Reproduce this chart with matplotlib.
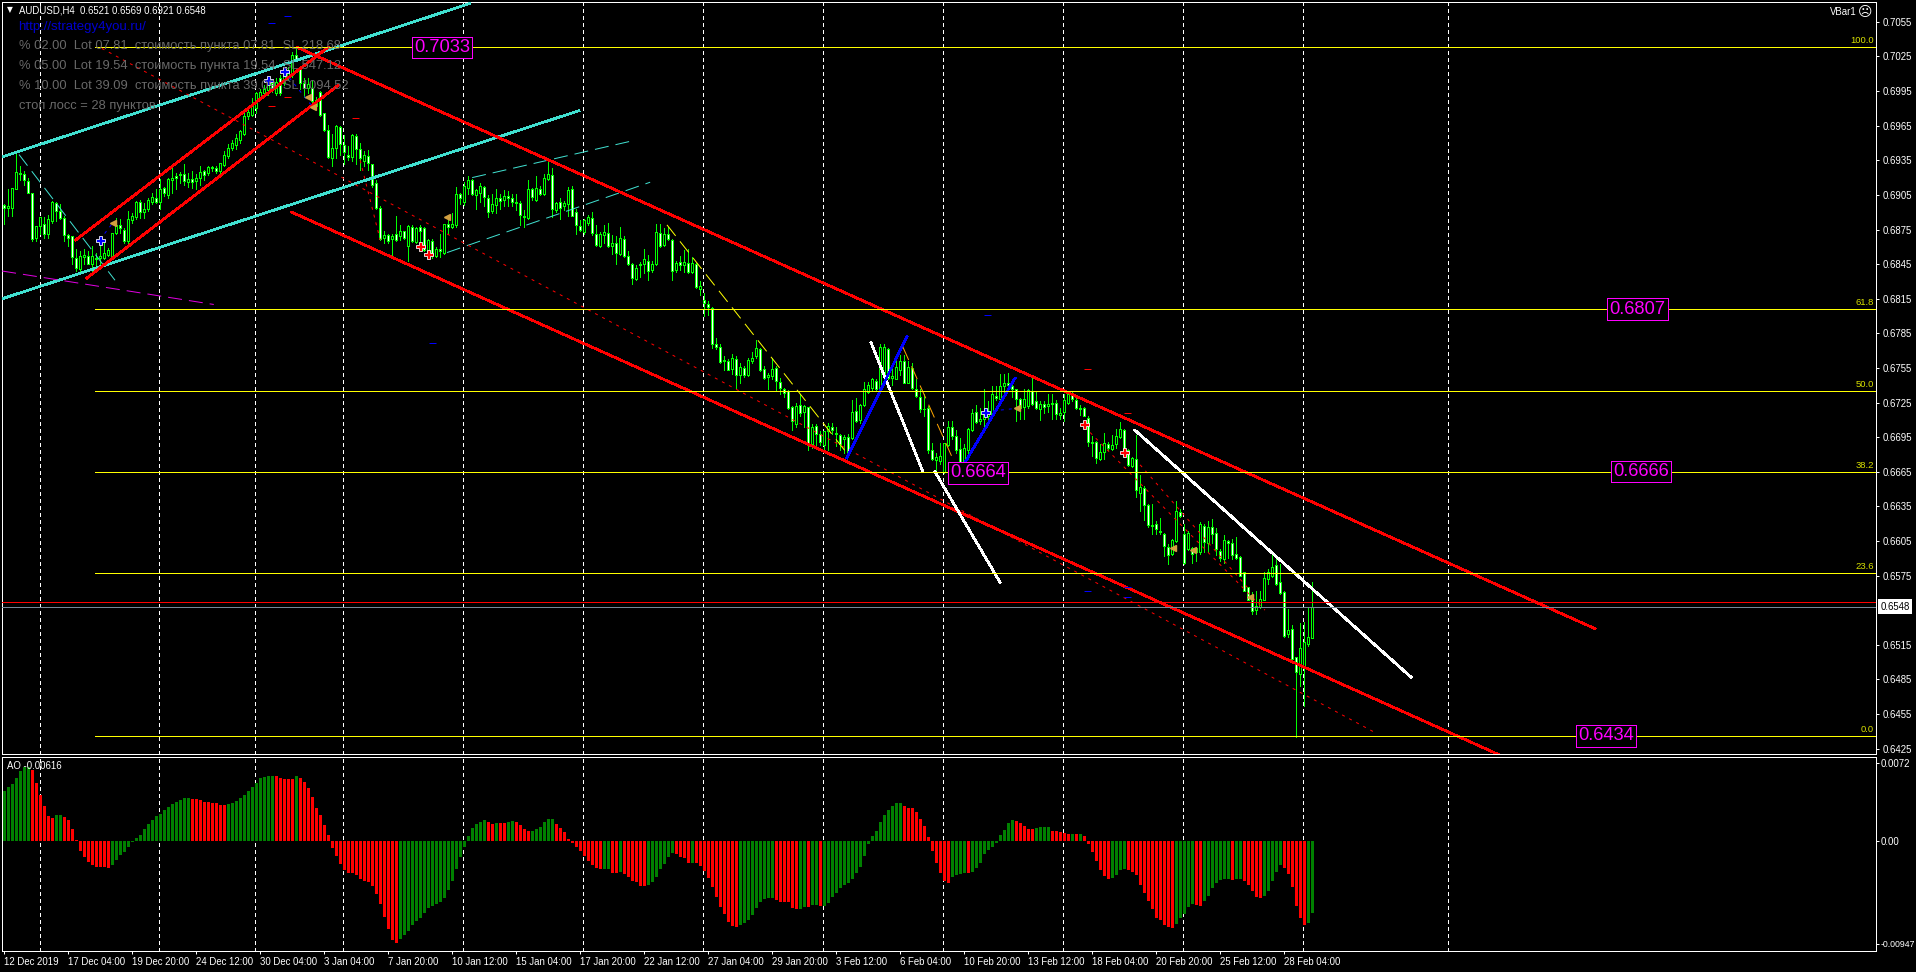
import matplotlib
matplotlib.use("Agg")
import matplotlib.pyplot as plt
import numpy as np

# AUDUSD H4 quotes in pips (1e-4)
opens = [6896,6894,6894,6910,6924,6923,6917,6907,6868,6878,
6880,6871,6882,6898,6891,6885,6870,6869,6850,6841,
6851,6852,6845,6850,6850,6850,6853,6852,6872,6879,
6875,6865,6883,6886,6899,6890,6893,6899,6902,6899,
6911,6905,6918,6921,6922,6923,6916,6919,6917,6920,
6926,6924,6929,6928,6926,6931,6939,6946,6948,6953,
6958,6973,6974,6980,6990,6993,6996,7002,6993,7006,
7002,7007,7009,7026,7015,7002,6998,6998,6987,6994,
6976,6961,6937,6946,6964,6948,6940,6938,6956,6945,
6934,6939,6932,6915,6894,6868,6870,6867,6871,6869,
6874,6861,6877,6864,6877,6876,6853,6865,6852,6858,
6855,6880,6877,6879,6906,6899,6911,6918,6905,6907,
6912,6902,6891,6896,6902,6901,6904,6902,6899,6898,
6887,6885,6910,6901,6910,6906,6919,6922,6892,6899,
6895,6897,6910,6890,6878,6873,6881,6885,6871,6861,
6870,6872,6861,6863,6854,6867,6852,6845,6832,6844,
6845,6848,6840,6845,6872,6862,6871,6866,6840,6847,
6844,6846,6838,6845,6823,6814,6810,6807,6776,6773,
6761,6761,6754,6763,6749,6755,6749,6761,6765,6771,
6754,6747,6748,6755,6743,6737,6735,6721,6706,6723,
6717,6721,6689,6705,6698,6688,6700,6704,6699,6697,
6693,6695,6694,6718,6710,6723,6734,6738,6744,6736,
6749,6771,6746,6745,6753,6761,6742,6755,6737,6730,
6719,6720,6684,6675,6674,6665,6688,6704,6696,6685,
6672,6684,6701,6717,6709,6711,6713,6713,6731,6728,
6739,6742,6739,6737,6728,6721,6722,6735,6726,6719,
6724,6722,6725,6725,6714,6717,6725,6733,6727,6720,
6720,6712,6691,6691,6676,6682,6689,6685,6689,6695,
6701,6684,6670,6676,6647,6651,6636,6619,6620,6614,
6611,6600,6594,6605,6630,6611,6598,6599,6595,6595,
6618,6603,6617,6612,6596,6589,6605,6603,6594,6591,
6578,6565,6554,6545,6548,6554,6572,6575,6584,6569,
6561,6524,6529,6504,6490,6495,6516,6521]

highs = [6897,6910,6911,6941,6930,6926,6920,6907,6878,6886,
6886,6888,6900,6899,6897,6887,6871,6869,6858,6856,
6858,6856,6861,6855,6866,6866,6859,6872,6885,6884,
6876,6891,6889,6900,6901,6898,6902,6907,6910,6919,
6912,6920,6931,6924,6925,6932,6924,6926,6923,6930,
6927,6930,6930,6930,6933,6943,6949,6953,6958,6961,
6977,6982,6989,6994,6997,7000,7007,7003,7006,7009,
7013,7016,7029,7034,7016,7006,7006,7005,6990,6995,
6976,6966,6958,6966,6965,6957,6947,6958,6958,6950,
6943,6944,6932,6918,6895,6874,6871,6871,6887,6879,
6874,6879,6879,6877,6879,6877,6867,6867,6860,6871,
6880,6884,6889,6912,6907,6916,6921,6919,6910,6915,
6913,6905,6906,6910,6906,6909,6908,6906,6906,6900,
6892,6918,6911,6921,6913,6923,6935,6928,6899,6902,
6900,6912,6913,6893,6883,6884,6888,6890,6879,6873,
6879,6881,6870,6869,6877,6869,6856,6846,6844,6847,
6858,6853,6848,6880,6880,6876,6877,6867,6848,6852,
6857,6858,6851,6846,6830,6820,6813,6808,6781,6776,
6765,6763,6767,6765,6759,6757,6764,6769,6779,6772,
6757,6751,6764,6757,6746,6738,6736,6722,6725,6732,
6723,6721,6706,6706,6700,6700,6707,6707,6704,6698,
6697,6698,6727,6729,6724,6743,6743,6746,6745,6776,
6776,6772,6755,6763,6766,6766,6761,6759,6745,6737,
6732,6722,6690,6681,6690,6690,6709,6709,6701,6694,
6689,6703,6719,6723,6720,6737,6726,6739,6739,6750,
6750,6751,6743,6737,6729,6737,6737,6747,6734,6726,
6726,6732,6732,6727,6720,6732,6735,6735,6729,6723,
6721,6713,6696,6692,6689,6699,6691,6697,6702,6708,
6702,6685,6678,6697,6662,6653,6637,6637,6622,6625,
6612,6602,6607,6640,6633,6620,6614,6600,6600,6621,
6620,6622,6624,6616,6598,6610,6606,6607,6608,6592,
6578,6565,6561,6562,6562,6578,6581,6593,6590,6585,
6562,6546,6532,6504,6534,6535,6548,6569]

lows = [6880,6887,6887,6910,6918,6914,6907,6865,6865,6871,
6868,6868,6881,6882,6884,6865,6861,6845,6839,6839,
6845,6845,6839,6842,6845,6849,6852,6849,6871,6872,
6863,6861,6881,6884,6885,6885,6891,6897,6898,6893,
6904,6902,6907,6910,6915,6914,6912,6911,6910,6914,
6918,6922,6926,6924,6921,6930,6937,6944,6945,6950,
6957,6971,6973,6976,6987,6992,6992,6994,6992,6992,
7000,7005,7007,7022,6997,6990,6993,6982,6980,6973,
6960,6937,6930,6937,6940,6932,6935,6934,6932,6927,
6930,6927,6912,6893,6866,6863,6863,6852,6865,6866,
6867,6848,6864,6863,6863,6856,6851,6850,6851,6851,
6854,6871,6876,6877,6897,6896,6906,6905,6893,6899,
6895,6886,6889,6889,6893,6895,6895,6895,6892,6879,
6877,6884,6901,6900,6905,6905,6918,6886,6890,6884,
6892,6887,6887,6871,6874,6871,6879,6870,6861,6860,
6863,6860,6854,6845,6853,6851,6844,6828,6831,6834,
6837,6831,6838,6844,6860,6861,6866,6831,6838,6840,
6838,6837,6837,6824,6818,6800,6801,6772,6771,6759,
6753,6753,6750,6738,6742,6747,6748,6759,6764,6752,
6745,6737,6745,6736,6732,6730,6719,6701,6704,6713,
6704,6684,6686,6688,6688,6684,6684,6698,6687,6684,
6681,6681,6693,6708,6707,6722,6733,6736,6735,6735,
6748,6745,6740,6745,6749,6742,6742,6737,6730,6717,
6713,6681,6675,6665,6672,6664,6687,6693,6681,6664,
6671,6681,6700,6707,6706,6704,6711,6713,6727,6727,
6730,6736,6730,6709,6711,6711,6720,6723,6719,6710,
6716,6717,6711,6711,6711,6709,6724,6726,6719,6714,
6713,6687,6679,6673,6675,6676,6684,6684,6686,6694,
6678,6670,6669,6643,6631,6623,6617,6611,6611,6611,
6592,6585,6593,6604,6626,6585,6597,6586,6588,6594,
6595,6595,6603,6593,6588,6586,6590,6589,6589,6575,
6562,6554,6542,6542,6547,6554,6568,6574,6567,6559,
6522,6522,6502,6435,6479,6462,6514,6521]

closes = [6894,6895,6911,6925,6923,6918,6907,6867,6878,6886,
6871,6884,6899,6891,6885,6870,6868,6851,6842,6852,
6853,6845,6852,6849,6852,6855,6857,6872,6879,6876,
6865,6884,6887,6899,6890,6893,6901,6903,6899,6910,
6907,6919,6920,6920,6923,6917,6919,6916,6920,6925,
6922,6929,6928,6926,6933,6940,6946,6950,6954,6960,
6973,6977,6984,6993,6994,6997,7002,6997,7003,6993,
7008,7012,7026,7023,7002,6998,7001,6986,6982,6974,
6961,6938,6946,6965,6949,6942,6938,6957,6945,6937,
6940,6933,6914,6894,6867,6870,6865,6869,6866,6874,
6868,6878,6865,6876,6874,6857,6866,6853,6858,6856,
6880,6877,6880,6906,6902,6913,6918,6906,6909,6913,
6903,6890,6897,6902,6900,6904,6902,6899,6898,6888,
6886,6910,6903,6911,6906,6920,6923,6893,6898,6894,
6898,6909,6887,6879,6875,6883,6886,6872,6862,6871,
6873,6861,6863,6855,6868,6852,6845,6833,6842,6845,
6849,6839,6845,6873,6861,6871,6867,6839,6846,6844,
6847,6838,6846,6825,6826,6811,6808,6776,6773,6760,
6762,6753,6764,6749,6756,6749,6762,6764,6772,6753,
6746,6749,6754,6744,6738,6733,6720,6709,6722,6716,
6722,6689,6704,6698,6691,6700,6705,6701,6698,6689,
6695,6682,6717,6709,6723,6737,6740,6745,6737,6773,
6773,6746,6748,6756,6761,6742,6756,6738,6731,6719,
6719,6684,6676,6678,6679,6690,6704,6696,6684,6672,
6686,6702,6716,6708,6711,6715,6716,6732,6729,6739,
6742,6740,6737,6728,6720,6728,6736,6724,6720,6724,
6721,6724,6724,6715,6716,6727,6732,6728,6720,6719,
6713,6691,6690,6677,6682,6690,6686,6688,6696,6702,
6679,6671,6677,6649,6652,6636,6619,6618,6615,6613,
6601,6593,6606,6631,6627,6586,6612,6594,6599,6620,
6604,6617,6611,6598,6590,6606,6603,6593,6590,6575,
6562,6554,6544,6549,6555,6573,6578,6582,6568,6560,
6523,6528,6503,6491,6512,6517,6522,6548]

# awesome oscillator, units of 1e-5
ao_vals = [462,498,526,581,646,680,686,655,532,422,
323,231,212,240,241,222,194,111,9,-92,
-148,-194,-222,-237,-240,-241,-249,-222,-175,-129,
-102,-55,-9,28,55,111,157,194,231,249,
286,314,342,360,378,397,398,388,387,378,
360,359,351,350,332,331,342,351,369,397,
425,462,498,535,581,591,598,602,600,
581,572,570,568,600,581,545,489,406,305,
240,148,55,-65,-138,-212,-268,-295,-296,-314,
-354,-369,-378,-415,-489,-581,-701,-812,-914,-941,
-905,-868,-831,-775,-738,-711,-665,-618,-600,-581,
-563,-526,-452,-369,-258,-148,-55,46,120,157,
175,194,175,157,166,165,164,175,185,175,
148,111,92,93,111,129,175,203,204,157,
120,83,18,-18,-55,-92,-138,-185,-222,-249,
-258,-257,-255,-295,-296,-286,-305,-332,-369,-378,
-415,-416,-406,-378,-332,-258,
-212,-148,-111,-120,-148,-157,-203,-202,-203,-231,
-277,-342,-425,-517,-609,-674,-748,-785,-794,-775,
-757,-729,-683,-618,-563,-535,-526,-525,-545,-563,
-564,-565,-618,-628,-627,-609,-610,-591,-590,-600,
-599,-572,-517,-480,-434,-406,-388,-351,-295,-240,
-138,-28,46,92,175,240,286,323,351,352,
323,305,304,268,203,138,37,-92,-203,-295,
-369,-388,-332,-314,-305,-295,-296,-286,-249,-203,
-120,-83,-55,-18,55,102,166,194,185,166,
138,111,110,120,129,130,131,92,91,83,
74,65,67,65,66,46,-28,-102,-185,-268,
-323,-351,-342,-314,-268,-258,-268,-286,-314,-406,
-480,-554,-628,-711,-729,-775,-794,-803,-766,-711,
-674,-609,-581,-591,-600,-554,-508,-434,-388,-360,
-351,-350,-360,-351,-350,-369,-406,-462,-517,-526,
-508,-462,-369,-286,-222,-249,-305,-425,-600,-711,
-775,-757,-665]

date_labels = ["12 Dec 2019","17 Dec 04:00","19 Dec 20:00","24 Dec 12:00","30 Dec 04:00",
               "3 Jan 04:00","7 Jan 20:00","10 Jan 12:00","15 Jan 04:00","17 Jan 20:00",
               "22 Jan 12:00","27 Jan 04:00","29 Jan 20:00","3 Feb 12:00","6 Feb 04:00",
               "10 Feb 20:00","13 Feb 12:00","18 Feb 04:00","20 Feb 20:00","25 Feb 12:00",
               "28 Feb 04:00"]
date_bars = list(range(0, 321, 16))
sep_bars = [8.9,38.8,62.8,84.8,114.8,144.8,174.8,204.8,234.8,264.8,294.8,324.8,361]

price_ticks = [7055,7025,6995,6965,6935,6905,6875,6845,6815,6785,6755,6725,6695,
               6665,6635,6605,6575,6515,6485,6455,6425]

# fibo levels (pips) and their captions
fib_levels = [7033,6806,6735,6665,6577,6436]
fib_names = ["100.0","61.8","50.0","38.2","23.6","0.0"]
bid_price = 6548
ask_price = 6552

# (bar, pips) end points of the hand drawn objects
red_thick = [((17.9,6866),(81,7033)),((20.7,6833),(83.5,7000)),
             ((73.2,7033),(397.7,6529)),((71.9,6890),(373.5,6420))]
red_dotted = [((24.4,7032),(343.2,6438)),((271.5,6699),(315.2,6545)),
              ((284,6671),(311.5,6562)),((89,6935),(94,6866))]
cyan_thick = [((-0.5,6938),(116.4,7071)),((-0.5,6815),(143.7,6978))]
cyan_thin = [((3.7,6940),(27.7,6831)),((117,6920),(157.2,6952)),((110.7,6855),(161.5,6916))]
white_thick = [((216.7,6777),(229.7,6665)),((232.7,6665),(249,6569)),((282.7,6701),(351.7,6487))]
blue_thick = [((210.7,6677),(225.7,6782)),((240.2,6673),(252.7,6746))]
blue_thin = [((23.9,6866),(27.2,6881)),((70,7012),(77.2,6981)),((245.2,6717),(253.2,6720))]
yellow_dash = [((165.7,6879),(210.7,6681))]
orange_dash = [((224.7,6773),(239,6662))]
magenta_dash = [((-0.5,6839),(52.4,6810))]

red_ticks_x = [70.8,66.8,87.8,270.8,280.8]
red_ticks_y = [6990,6982,6972,6754,6716]
blue_ticks_x = [70.7,66.8,270.7,280.7,280.8,245.7,107]
blue_ticks_y = [7060,7054,6562,6565,6556,6801,6777]
up_arrows_x = [23.9,66,70,245.2]
up_arrows_y = [6866,7005,7012,6717]
dn_arrows_x = [104,106,270,280]
dn_arrows_y = [6861,6854,6706,6682]
tan_x = [27.2,76,77.2,110.7,253.2,292.2,297.2,311.4]
tan_y = [6881,6990,6981,6886,6720,6599,6597,6556]

# magenta price boxes: caption, bar, pips
box_text = ["0.7033","0.6807","0.6666","0.6434","0.6664"]
box_bar = [109.4,408.3,409.3,400.4,243.5]
box_pips = [7033,6806,6665,6436,6664]

info_lines = ["% 02.00  Lot 07.81  стоимость пункта 07.81  SL 218.68",
              "% 05.00  Lot 19.54  стоимость пункта 19.54  SL 547.12",
              "% 10.00  Lot 39.09  стоимость пункта 39.09  SL 1094.52",
              "стоп лосс = 28 пунктов"]

W, H = 1916, 972
PX = 0.72  # one pixel in points at dpi 100
plt.rcParams['font.family'] = ['Liberation Sans', 'DejaVu Sans']
plt.rcParams['lines.antialiased'] = False
plt.rcParams['patch.antialiased'] = False

fig = plt.figure(figsize=(W/100, H/100), dpi=100, facecolor='black')
ax = fig.add_axes([2.3/W, (H-754)/H, (1875.7-2.3)/W, (754-2.5)/H], facecolor='black')
ax2 = fig.add_axes([2.3/W, (H-951)/H, (1875.7-2.3)/W, (951-757)/H], facecolor='black')

xlim = (-0.475, 467.9)
for a in (ax, ax2):
    a.set_xlim(xlim)
    for s in a.spines.values():
        s.set_color('white')
        s.set_linewidth(PX)
    for b in sep_bars:
        a.axvline(b, color='white', lw=PX, dashes=(3, 3), zorder=1)
ax.set_ylim(0.64203, 0.70718)
ax2.set_ylim(-0.01015, 0.00775)

o = np.array(opens)/1e4
h = np.array(highs)/1e4
l = np.array(lows)/1e4
c = np.array(closes)/1e4
bars = np.arange(len(o))

# candles: white body falling, black body rising
ax.vlines(bars, l, h, color='#00ff00', lw=PX, zorder=3)
tops = np.maximum(o, c)
bots = np.minimum(o, c)
fills = ['white' if c[i] < o[i] else 'black' for i in bars]
ax.bar(bars, tops-bots, bottom=bots, width=0.5, color=fills, edgecolor='#00ff00', lw=PX, zorder=4)


def draw(lines, color, lw, dashes=None, z=5):
    for (x0, p0), (x1, p1) in lines:
        ln, = ax.plot([x0, x1], [p0/1e4, p1/1e4], color=color, lw=lw*PX, zorder=z)
        if dashes:
            # thin dashed objects stay 1px only when smoothed
            ln.set_dashes(dashes)
            ln.set_antialiased(True)


draw(cyan_thick, '#40e0d0', 1.7)
draw(cyan_thin, '#40e0d0', 1, (14, 7))
draw(magenta_dash, '#e000e0', 1, (14, 7))
draw(red_thick, '#ff0000', 1.7)
draw(red_dotted, '#ff0000', 1, (3, 5))
draw(white_thick, '#ffffff', 1.7)
draw(blue_thick, '#0000ff', 1.7)
draw(blue_thin, '#0000ff', 1, (3, 5))
draw(yellow_dash, '#ffff00', 1, (14, 7))
draw(orange_dash, '#ffa500', 1, (14, 7))

# fibo lines start at bar 23
for lev, name in zip(fib_levels, fib_names):
    ax.plot([22.7, xlim[1]], [lev/1e4, lev/1e4], color='#ffff00', lw=0.8*PX, zorder=5)
    ax.annotate(name, (xlim[1], lev/1e4), xytext=(-2*PX, 2*PX), textcoords='offset points',
                color='#d8e000', fontsize=6.8, ha='right', va='bottom', zorder=6)

ax.axhline(ask_price/1e4, color='#ff0000', lw=0.8*PX, zorder=5)
ax.axhline(bid_price/1e4, color='#778899', lw=0.8*PX, zorder=5)

ax.plot(red_ticks_x, np.array(red_ticks_y)/1e4, ls='', marker='_', ms=7*PX, mew=PX, color='#ff0000', zorder=6)
ax.plot(blue_ticks_x, np.array(blue_ticks_y)/1e4, ls='', marker='_', ms=7*PX, mew=PX, color='#0000ff', zorder=6)
ax.plot(up_arrows_x, np.array(up_arrows_y)/1e4, ls='', marker='P', ms=9*PX, mfc='#0000ff', mec='white', mew=0.8*PX, zorder=6)
ax.plot(dn_arrows_x, np.array(dn_arrows_y)/1e4, ls='', marker='P', ms=9*PX, mfc='#ff0000', mec='white', mew=0.8*PX, zorder=6)
ax.plot(tan_x, np.array(tan_y)/1e4, ls='', marker='<', ms=6*PX, mfc='#d2a040', mec='#d2a040', zorder=6)

for txt, b, p in zip(box_text, box_bar, box_pips):
    ax.text(b, p/1e4, txt, color='#ff00ff', fontsize=13.2, ha='center', va='center', zorder=8,
            bbox=dict(boxstyle='square,pad=0.12', fc='black', ec='#ff00ff', lw=0.8*PX))

# price axis
ax.yaxis.tick_right()
ax.set_yticks(np.array(price_ticks)/1e4)
ax.set_yticklabels(['%.4f' % (t/1e4) for t in price_ticks])
ax.tick_params(axis='y', colors='white', length=3*PX, width=PX, pad=3, labelsize=6.9)
ax.set_xticks([])

# current price tag
ax.annotate('%.4f' % (bid_price/1e4), (xlim[1], bid_price/1e4), xytext=(3.6, 0), textcoords='offset points',
            color='black', fontsize=6.9, ha='left', va='center', annotation_clip=False, zorder=9,
            bbox=dict(boxstyle='square,pad=0.25', fc='white', ec='white', lw=0))

# header texts
fig.text(7/W, 1-10/H, '▼', color='white', fontsize=5.5, va='center', family='DejaVu Sans')
fig.text(19/W, 1-10.5/H, 'AUDUSD,H4  0.6521 0.6569 0.6921 0.6548', color='white', fontsize=6.9, va='center')
fig.text(18/W, 1-27/H, 'http://strategy4you.ru/', color='#0000cd', fontsize=9.5, va='center', zorder=10)
for k, line in enumerate(info_lines):
    fig.text(19/W, 1-(46+20*k)/H, line, color='#696969', fontsize=9.3, va='center', zorder=10)
fig.text(1857/W, 1-12/H, 'VBar1', color='white', fontsize=6.9, ha='right', va='center')
fig.text(1865/W, 1-12/H, '☹', color='white', fontsize=10, ha='center', va='center', family='DejaVu Sans')

# AO panel
ao = np.array(ao_vals)*1e-5
ao_col = ['#008000' if i == 0 or ao[i] > ao[i-1] else '#ff0000' for i in range(len(ao))]
ax2.bar(np.arange(len(ao)), ao, width=0.72, color=ao_col, lw=0, zorder=3)
ax2.yaxis.tick_right()
ax2.set_yticks([0.0072, 0.0, -0.00947])
ax2.set_yticklabels(['0.0072', '0.00', '-0.00947'])
ax2.tick_params(axis='y', colors='white', length=3*PX, width=PX, pad=1.5, labelsize=6.9)
ax2.get_yticklabels()[2].set_fontsize(6.3)
ax2.set_xticks(date_bars)
ax2.set_xticklabels(date_labels, ha='left')
ax2.tick_params(axis='x', colors='white', length=3*PX, width=PX, pad=2, labelsize=6.9)
fig.text(7/W, 1-766/H, 'AO -0.00616', color='white', fontsize=6.9, va='center', zorder=10)

fig.savefig('out.png', dpi=100, facecolor='black')
